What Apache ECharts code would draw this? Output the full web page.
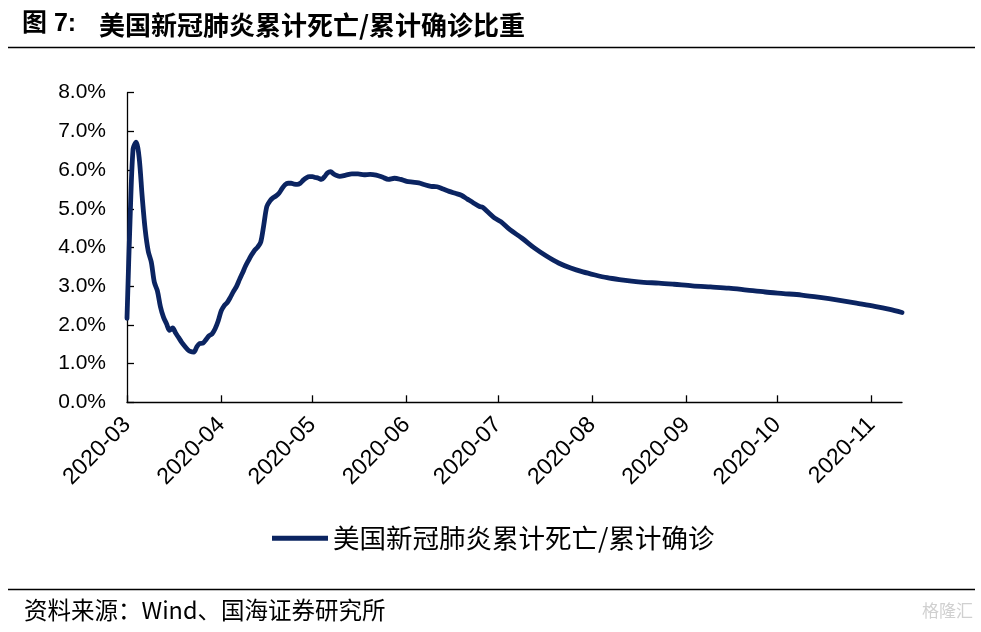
<!DOCTYPE html>
<html>
<head>
<meta charset="utf-8">
<script src="https://cdn.jsdelivr.net/npm/echarts@6/dist/echarts.min.js"></script>
<style>
html,body{margin:0;padding:0;background:#fff;}
#chart{width:981px;height:632px;}
</style>
</head>
<body>
<div id="chart"></div>
<script>
var titleText = '美国新冠肺炎累计死亡/累计确诊比重';
var seriesName = '美国新冠肺炎累计死亡/累计确诊';
var sourceText = '资料来源：Wind、国海证券研究所';
var yTicks = [0, 1, 2, 3, 4, 5, 6, 7, 8];

var dates = [
'2020-03-01','2020-03-02','2020-03-03','2020-03-04','2020-03-05','2020-03-06','2020-03-07','2020-03-08','2020-03-09','2020-03-10',
'2020-03-11','2020-03-12','2020-03-13','2020-03-14','2020-03-15','2020-03-16','2020-03-17','2020-03-18','2020-03-19','2020-03-20',
'2020-03-21','2020-03-22','2020-03-23','2020-03-24','2020-03-25','2020-03-26','2020-03-27','2020-03-28','2020-03-29','2020-03-30',
'2020-03-31','2020-04-01','2020-04-02','2020-04-03','2020-04-04','2020-04-05','2020-04-06','2020-04-07','2020-04-08','2020-04-09',
'2020-04-10','2020-04-11','2020-04-12','2020-04-13','2020-04-14','2020-04-15','2020-04-16','2020-04-17','2020-04-18','2020-04-19',
'2020-04-20','2020-04-21','2020-04-22','2020-04-23','2020-04-24','2020-04-25','2020-04-26','2020-04-27','2020-04-28','2020-04-29',
'2020-04-30','2020-05-01','2020-05-02','2020-05-03','2020-05-04','2020-05-05','2020-05-06','2020-05-07','2020-05-08','2020-05-09',
'2020-05-10','2020-05-12','2020-05-14','2020-05-16','2020-05-18','2020-05-20','2020-05-22','2020-05-24','2020-05-26','2020-05-28',
'2020-05-30','2020-06-01','2020-06-03','2020-06-05','2020-06-07','2020-06-09','2020-06-11','2020-06-13','2020-06-15','2020-06-17',
'2020-06-19','2020-06-21','2020-06-23','2020-06-25','2020-06-26','2020-06-28','2020-06-30','2020-07-02','2020-07-05','2020-07-09',
'2020-07-13','2020-07-17','2020-07-21','2020-07-25','2020-07-29','2020-08-02','2020-08-06','2020-08-10','2020-08-14','2020-08-18',
'2020-08-23','2020-08-28','2020-09-03','2020-09-09','2020-09-15','2020-09-21','2020-09-27','2020-10-03','2020-10-09','2020-10-15',
'2020-10-21','2020-10-27','2020-11-02','2020-11-07','2020-11-11'
];

var values = [
2.17,4.70,6.55,6.72,6.32,5.31,4.45,3.90,3.62,3.10,
2.88,2.47,2.20,2.03,1.86,1.92,1.79,1.67,1.55,1.45,
1.36,1.31,1.30,1.44,1.52,1.53,1.62,1.72,1.77,1.90,
2.10,2.36,2.50,2.58,2.71,2.86,2.99,3.17,3.34,3.52,
3.67,3.81,3.93,4.01,4.14,4.58,5.06,5.20,5.28,5.33,
5.40,5.52,5.62,5.66,5.66,5.64,5.63,5.66,5.74,5.80,
5.83,5.83,5.81,5.79,5.76,5.83,5.93,5.96,5.90,5.86,
5.84,5.87,5.90,5.90,5.88,5.89,5.87,5.82,5.76,5.79,
5.76,5.71,5.69,5.67,5.62,5.58,5.57,5.51,5.45,5.40,
5.35,5.25,5.15,5.06,5.04,4.90,4.76,4.67,4.46,4.24,
3.99,3.78,3.60,3.47,3.37,3.29,3.22,3.17,3.13,3.10,
3.08,3.05,3.01,2.98,2.95,2.90,2.85,2.81,2.77,2.71,
2.64,2.56,2.48,2.40,2.32
];

var xMin = '2020-03-01';
var xMax = '2020-11-11';

var seriesData = dates.map(function (d, i) { return [d, values[i]]; });
var DAY = 24 * 3600 * 1000;
var navy = '#0b2461';
var sansLatin = "'Liberation Sans', Arial, 'Noto Sans CJK SC', sans-serif";
var cjk = "'Noto Sans CJK SC', 'Liberation Sans', sans-serif";

var chart = echarts.init(document.getElementById('chart'), null, {renderer: 'canvas'});
chart.setOption({
  animation: false,
  backgroundColor: '#ffffff',
  grid: {left: 127, right: 79, top: 92.7, bottom: 229.7, containLabel: false},
  legend: {
    show: true,
    left: 267,
    top: 520,
    icon: 'rect',
    itemWidth: 56,
    itemHeight: 5,
    textStyle: {fontFamily: cjk, fontSize: 26.5, color: '#000'},
    data: [{name: seriesName, itemStyle: {color: navy}}]
  },
  xAxis: {
    type: 'time',
    min: xMin,
    max: xMax,
    minInterval: 28 * DAY,
    maxInterval: 31 * DAY,
    splitLine: {show: false},
    axisLine: {show: true, lineStyle: {color: '#000', width: 1.3}},
    axisTick: {show: true, inside: true, length: 7, lineStyle: {color: '#000', width: 1.3}},
    minorTick: {show: false},
    axisLabel: {
      rotate: 45,
      margin: 19,
      fontFamily: sansLatin,
      fontSize: 23,
      color: '#000',
      showMaxLabel: false,
      formatter: '{yyyy}-{MM}',
      hideOverlap: false
    }
  },
  yAxis: {
    type: 'value',
    min: yTicks[0],
    max: yTicks[yTicks.length - 1],
    interval: 1,
    splitLine: {show: false},
    axisLine: {show: true, lineStyle: {color: '#000', width: 1.3}},
    axisTick: {show: true, inside: true, length: 7, lineStyle: {color: '#000', width: 1.3}},
    axisLabel: {
      margin: 21,
      fontFamily: sansLatin,
      fontSize: 21,
      color: '#000',
      formatter: function (v) { return v.toFixed(1) + '%'; }
    }
  },
  series: [{
    name: seriesName,
    type: 'line',
    data: seriesData,
    showSymbol: false,
    symbol: 'none',
    smooth: 0.3,
    lineStyle: {color: navy, width: 4.8, cap: 'round', join: 'round'},
    itemStyle: {color: navy}
  }],
  graphic: [
    {type: 'text', left: 22, top: 12, style: {text: '图 7:', font: 'bold 25px ' + sansLatin, fill: '#000'}},
    {type: 'text', left: 99, top: 12, style: {text: titleText, font: 'bold 26px ' + cjk, fill: '#000'}},
    {type: 'line', shape: {x1: 8, y1: 47.5, x2: 975, y2: 47.5}, style: {stroke: '#000', lineWidth: 1.6}},
    {type: 'line', shape: {x1: 8, y1: 589.5, x2: 975, y2: 589.5}, style: {stroke: '#000', lineWidth: 1.6}},
    {type: 'text', left: 24, top: 598, style: {text: sourceText, font: '23.5px ' + cjk, fill: '#000'}},
    {type: 'text', right: 8, top: 602, style: {text: '格隆汇', font: '17px ' + cjk, fill: '#d0d0d0'}}
  ]
});
</script>
</body>
</html>
